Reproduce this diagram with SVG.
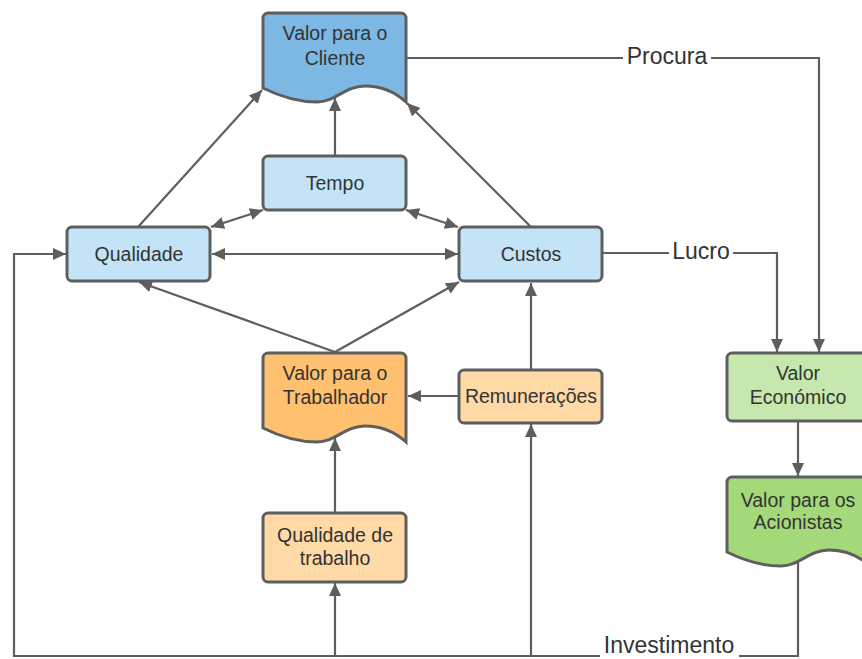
<svg xmlns="http://www.w3.org/2000/svg" width="862" height="659" viewBox="0 0 862 659">
  <style>
    .box { stroke: #5e5e5e; stroke-width: 3; }
    .blue-dark { fill: #7db8e5; }
    .blue { fill: #c3e4f7; }
    .orange-dark { fill: #ffc070; }
    .orange { fill: #ffdaa6; }
    .green { fill: #c6e7ae; }
    .green-dark { fill: #a4d97a; }
    .label { font-family: "Liberation Sans", Arial, sans-serif; font-size: 19.5px; fill: #333333; text-anchor: middle; }
    .edge-label { font-family: "Liberation Sans", Arial, sans-serif; font-size: 23px; fill: #333333; text-anchor: middle; }
    .link { fill: none; stroke: #5e5e5e; stroke-width: 2.2; }
    .arrow { marker-end: url(#head); }
    .both { marker-start: url(#head); marker-end: url(#head); }
  </style>
  <defs>
    <marker id="head" markerUnits="userSpaceOnUse" markerWidth="14" markerHeight="12" refX="13" refY="6" orient="auto-start-reverse">
      <path d="M0,0 L13,6 L0,12 Z" fill="#5e5e5e"/>
    </marker>
    <!-- document shape: rounded top, wavy bottom -->
    <path id="doc" d="M263,18 A5,5 0 0 1 268,13 H401 A5,5 0 0 1 406,18 V102 C395,92 380,86 365,86 C345,86 335,102 317,102 C295,102 275,94 263,88 Z"/>
  </defs>

  <rect width="862" height="659" fill="#ffffff"/>

  <!-- connectors -->
  <g id="connectors">
    <!-- towards Valor para o Cliente -->
    <line class="link arrow" x1="138" y1="227" x2="262" y2="90"/>
    <line class="link arrow" x1="335" y1="156" x2="335" y2="98"/>
    <line class="link arrow" x1="531" y1="227" x2="407" y2="103"/>
    <!-- mutual links around Tempo -->
    <line class="link both" x1="211" y1="227" x2="263" y2="210"/>
    <line class="link both" x1="406" y1="210" x2="458" y2="227"/>
    <line class="link both" x1="212" y1="254" x2="458" y2="254"/>
    <!-- Valor para o Trabalhador -> Qualidade / Custos -->
    <line class="link arrow" x1="335" y1="352" x2="139" y2="282"/>
    <line class="link arrow" x1="335" y1="352" x2="459" y2="282"/>
    <!-- Remunerações -->
    <line class="link arrow" x1="531" y1="370" x2="531" y2="283"/>
    <line class="link arrow" x1="459" y1="396" x2="408" y2="396"/>
    <!-- Qualidade de trabalho -> Trabalhador -->
    <line class="link arrow" x1="335" y1="513" x2="335" y2="438"/>
    <!-- Procura -->
    <polyline class="link arrow" points="406,58 819,58 819,352"/>
    <!-- Lucro -->
    <polyline class="link arrow" points="602,253 777,253 777,352"/>
    <!-- Valor Económico -> Acionistas -->
    <line class="link arrow" x1="798" y1="421" x2="798" y2="476"/>
    <!-- Investimento loop -->
    <polyline class="link arrow" points="798,561 798,656 14,656 14,254 66,254"/>
    <line class="link arrow" x1="335" y1="656" x2="335" y2="583"/>
    <line class="link arrow" x1="531" y1="656" x2="531" y2="424"/>

    <!-- connector labels -->
    <rect x="623" y="44" width="88" height="26" fill="#ffffff"/>
    <text class="edge-label" x="667" y="64">Procura</text>
    <rect x="669" y="239" width="64" height="26" fill="#ffffff"/>
    <text class="edge-label" x="701" y="259">Lucro</text>
    <rect x="600" y="636" width="139" height="23" fill="#ffffff"/>
    <text class="edge-label" x="669" y="653">Investimento</text>
  </g>

  <g id="valor-cliente">
    <use href="#doc" class="box blue-dark"/>
    <text class="label" x="335" y="40">Valor para o</text>
    <text class="label" x="335" y="65">Cliente</text>
  </g>

  <g id="tempo">
    <rect class="box blue" x="263" y="156" width="143" height="54" rx="5"/>
    <text class="label" x="335" y="190">Tempo</text>
  </g>

  <g id="qualidade">
    <rect class="box blue" x="67" y="227" width="143" height="54" rx="5"/>
    <text class="label" x="139" y="261">Qualidade</text>
  </g>

  <g id="custos">
    <rect class="box blue" x="459" y="227" width="143" height="54" rx="5"/>
    <text class="label" x="531" y="261">Custos</text>
  </g>

  <g id="valor-trabalhador">
    <use href="#doc" class="box orange-dark" transform="translate(0,340)"/>
    <text class="label" x="335" y="380">Valor para o</text>
    <text class="label" x="335" y="404">Trabalhador</text>
  </g>

  <g id="remuneracoes">
    <rect class="box orange" x="459" y="370" width="143" height="53" rx="5"/>
    <text class="label" x="531" y="403">Remunerações</text>
  </g>

  <g id="qualidade-trabalho">
    <rect class="box orange" x="263" y="513" width="143" height="69" rx="5"/>
    <text class="label" x="335" y="542">Qualidade de</text>
    <text class="label" x="335" y="565">trabalho</text>
  </g>

  <g id="valor-economico">
    <rect class="box green" x="727" y="353" width="143" height="68" rx="5"/>
    <text class="label" x="798" y="380">Valor</text>
    <text class="label" x="798" y="404">Económico</text>
  </g>

  <g id="valor-acionistas">
    <use href="#doc" class="box green-dark" transform="translate(464,464)"/>
    <text class="label" x="798" y="507">Valor para os</text>
    <text class="label" x="798" y="529">Acionistas</text>
  </g>
</svg>
